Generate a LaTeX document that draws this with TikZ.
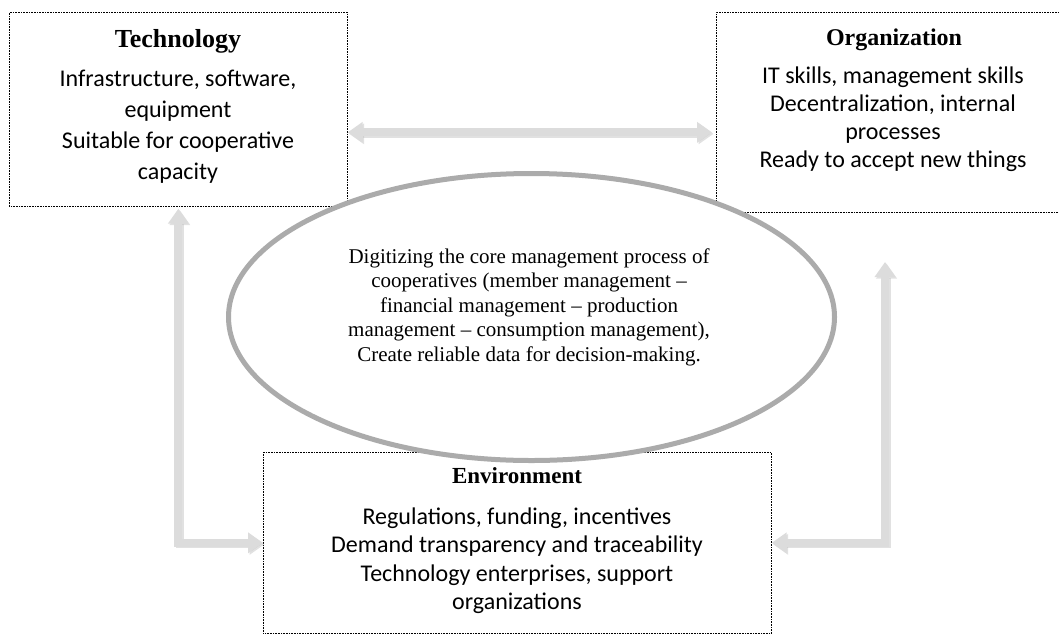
\documentclass[tikz,border=0pt]{standalone}
\usepackage{fontspec}
\setmainfont{Liberation Serif}
\newfontfamily\bodyfont{Carlito}
\usetikzlibrary{arrows.meta,shapes.geometric}
\definecolor{arrowgray}{HTML}{DCDCDC}
\definecolor{arrowshade}{HTML}{BDBDBD}
\definecolor{ringgray}{HTML}{ABABAB}

\begin{document}
\begin{tikzpicture}[x=1pt,y=-1pt,
  box/.style={draw, line width=0.7pt, dash pattern=on 0.8pt off 0.8pt,
    anchor=north west, inner sep=0pt},
  title/.style={anchor=base, inner sep=0pt},
  % multi-line blocks are placed by the baseline of their last line
  body/.style={align=center, anchor=base, inner sep=0pt},
  tipends/.style={{Triangle[length=15pt,width=20pt]}-{Triangle[length=15pt,width=20pt]}},
  twoway/.style={line width=8pt, draw=arrowgray, tipends, line join=miter,
    preaction={draw=arrowshade, opacity=0.45, line width=8pt, tipends,
      transform canvas={shift={(1.5pt,-1.5pt)}}}},
  ring/.style={ellipse, draw=ringgray, line width=5pt, fill=white, inner sep=0pt},
]
\useasboundingbox (0,0) rectangle (1059,635);

% the three factor boxes
\node[box, minimum width=338pt, minimum height=194pt] (tech) at (9,12) {};
\node[box, minimum width=356pt, minimum height=200pt] (org) at (716,12) {};
\node[box, minimum width=508pt, minimum height=181pt] (env) at (263,452) {};

% two-way links between the factors
\draw[twoway, shorten >=4pt] ([yshift=-23pt]tech.east) -- ([yshift=-23pt]tech.east -| org.west);
\draw[twoway, shorten <=2pt] (tech.south) |- (env.west);
\coordinate (orgfoot) at (885,262);
\draw[twoway] (orgfoot) |- (env.east);

% central goal
\node[ring, minimum width=606pt, minimum height=287pt] (core) at (531.5,317) {};

% texts
\node[title, font=\bfseries\fontsize{26}{30}\selectfont] (techtitle) at (178,47) {Technology};
\node[body, font=\bodyfont\fontsize{24}{31}\selectfont] (techbody) at (178,179)
  {Infrastructure, software,\\equipment\\Suitable for cooperative\\capacity};

\node[title, font=\bfseries\fontsize{24}{28}\selectfont] (orgtitle) at (894,45) {Organization};
\node[body, font=\bodyfont\fontsize{24}{27.7}\selectfont] (orgbody) at (893,167)
  {IT skills, management skills\\Decentralization, internal\\processes\\Ready to accept new things};

\node[title, font=\bfseries\fontsize{23}{27}\selectfont] (envtitle) at (517,483) {Environment};
\node[body, font=\bodyfont\fontsize{24}{28.5}\selectfont] (envbody) at (517,609.5)
  {Regulations, funding, incentives\\Demand transparency and traceability\\Technology enterprises, support\\organizations};

\node[body, font=\fontsize{21}{24.5}\selectfont] (coretext) at (529,361)
  {Digitizing the core management process of\\cooperatives (member management --\\financial management -- production\\management -- consumption management),\\Create reliable data for decision-making.};
\end{tikzpicture}
\end{document}
